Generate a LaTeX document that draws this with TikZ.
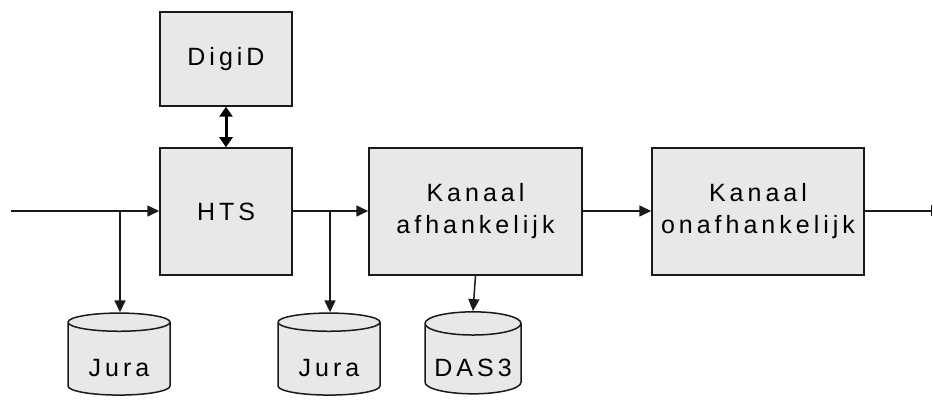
\documentclass[tikz,border=0pt]{standalone}
\usepackage{fontspec}
\setmainfont[LetterSpace=16]{Liberation Sans}
\usetikzlibrary{shapes.geometric,arrows.meta}
\definecolor{boxfill}{HTML}{E8E8E8}
\definecolor{ink}{HTML}{1A1A1A}
\newcommand{\droptext}[1]{\raisebox{-17pt}[0pt][0pt]{#1}}
\tikzset{
  procbox/.style={draw=ink, fill=boxfill, line width=1.5pt, rectangle, inner sep=0pt,
    align=center, font=\fontsize{25}{32}\selectfont},
  store/.style={draw=ink, fill=boxfill, line width=1.5pt, cylinder, shape border rotate=90,
    shape aspect=0.3, inner sep=0pt, font=\fontsize{25}{32}\selectfont,
    minimum width=102pt, minimum height=82pt},
  flow/.style={draw=ink, line width=1.5pt, -{Triangle[length=12pt,width=11pt]}},
  flowend/.style={draw=ink, line width=1.5pt, -{Bar[width=11pt,line width=1.5pt]}},
  twoway/.style={draw=black, line width=3pt, {Triangle[length=10pt,width=13pt]}-{Triangle[length=10pt,width=13pt]}},
}
\begin{document}
\begin{tikzpicture}[x=1pt,y=-1pt]
\useasboundingbox (0,0) rectangle (933,403);
\node[procbox, minimum width=132pt, minimum height=94pt] (digid) at (226,59) {DigiD};
\node[procbox, minimum width=132pt, minimum height=127pt] (hts) at (226,211.5) {HTS};
\node[procbox, minimum width=213pt, minimum height=127pt] (ka) at (475.5,211.5) {Kanaal\\afhankelijk};
\node[procbox, minimum width=212pt, minimum height=127pt] (ko) at (758,211.5) {Kanaal\\onafhankelijk};
\node[store] (j1) at (119,359) {\droptext{Jura}};
\node[store] (j2) at (329,359) {\droptext{Jura}};
\node[store, minimum width=96pt] (das) at (473,359) {\droptext{DAS3}};
\coordinate (in) at (11,211);
\coordinate (out) at (932,211);
\coordinate (b1) at (120,211);
\coordinate (b2) at (330,211);
\draw[flow] (in) -- (in -| hts.west);
\draw[flow] (hts.east |- in) -- (in -| ka.west);
\draw[flow] (ka.east |- in) -- (in -| ko.west);
\draw[flowend] (ko.east |- in) -- (out);
\draw[flow] (b1) -- (b1 |- j1.top);
\draw[flow] (b2) -- (b2 |- j2.top);
\draw[flow] (ka.south) -- (das.top);
\draw[twoway] (digid.south) -- (hts.north);
\end{tikzpicture}
\end{document}
